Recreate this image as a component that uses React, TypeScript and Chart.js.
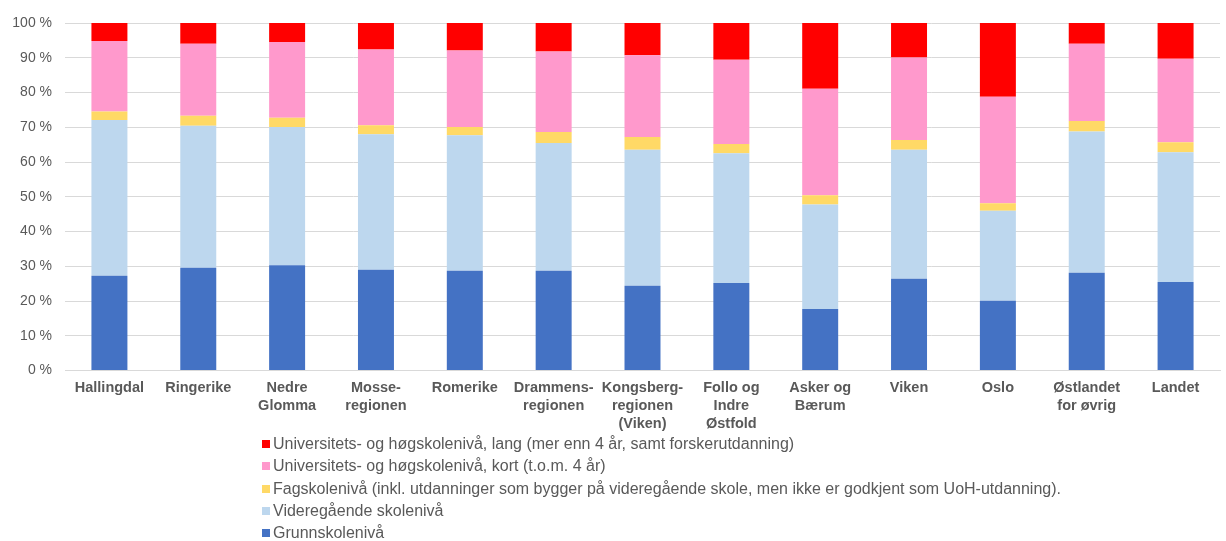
import React, { useEffect, useRef } from "react";
import { Chart, registerables } from "chart.js";

Chart.register(...registerables);

const categories: (string | string[])[] = [
  "Hallingdal",
  "Ringerike",
  ["Nedre", "Glomma"],
  ["Mosse-", "regionen"],
  "Romerike",
  ["Drammens-", "regionen"],
  ["Kongsberg-", "regionen", "(Viken)"],
  ["Follo og", "Indre", "Østfold"],
  ["Asker og", "Bærum"],
  "Viken",
  "Oslo",
  ["Østlandet", "for øvrig"],
  "Landet",
];

const grunnskole = [27.3, 29.6, 30.3, 29.0, 28.7, 28.7, 24.4, 25.2, 17.7, 26.4, 20.1, 28.1, 25.5];
const videregaende = [44.8, 40.8, 39.8, 39.0, 39.0, 36.8, 39.1, 37.3, 30.1, 37.1, 25.9, 40.7, 37.3];
const fagskole = [2.4, 2.9, 2.6, 2.6, 2.4, 3.1, 3.7, 2.7, 2.6, 2.8, 2.1, 3.0, 2.9];
const uhKort = [20.3, 20.7, 21.8, 21.8, 22.0, 23.2, 23.5, 24.2, 30.7, 23.8, 30.7, 22.2, 24.0];
const uhLang = [5.2, 6.0, 5.5, 7.6, 7.9, 8.2, 9.3, 10.6, 18.9, 9.9, 21.2, 6.0, 10.3];

const yTicks = [0, 10, 20, 30, 40, 50, 60, 70, 80, 90, 100];

const seriesNames = [
  "Grunnskolenivå",
  "Videregående skolenivå",
  "Fagskolenivå (inkl. utdanninger som bygger på videregående skole, men ikke er godkjent som UoH-utdanning).",
  "Universitets- og høgskolenivå, kort (t.o.m. 4 år)",
  "Universitets- og høgskolenivå, lang (mer enn 4 år, samt forskerutdanning)",
];
const seriesColors = ["#4472C4", "#BDD7EE", "#FFD966", "#FF99CC", "#FF0000"];
const seriesData = [grunnskole, videregaende, fagskole, uhKort, uhLang];

const TEXT = "#595959";
const FONT = "'Liberation Sans', Arial, sans-serif";

export default function App() {
  const ref = useRef<HTMLCanvasElement | null>(null);

  useEffect(() => {
    if (!ref.current) return;
    const chart = new Chart(ref.current, {
      type: "bar",
      data: {
        labels: categories,
        datasets: seriesData.map((d, i) => ({
          label: seriesNames[i],
          data: d,
          backgroundColor: seriesColors[i],
          borderWidth: 0,
          barPercentage: 0.405,
          categoryPercentage: 1,
        })),
      },
      options: {
        animation: false,
        responsive: false,
        maintainAspectRatio: false,
        layout: { padding: { left: 0, right: 6, top: 23, bottom: 0 } },
        plugins: { legend: { display: false }, tooltip: { enabled: false } },
        scales: {
          x: {
            stacked: true,
            grid: { display: false, drawTicks: false },
            border: { display: true, color: "#d9d9d9", width: 1 },
            ticks: {
              color: TEXT,
              font: { family: FONT, size: 14.5, weight: "bold", lineHeight: 1.26 },
              padding: 8,
              maxRotation: 0,
              autoSkip: false,
            },
            afterFit: (s: any) => {
              s.height = 440 - 370.5;
            },
          },
          y: {
            stacked: true,
            min: 0,
            max: 100,
            afterBuildTicks: (s: any) => {
              s.ticks = yTicks.map((v) => ({ value: v }));
            },
            grid: { color: "#d9d9d9", drawTicks: false, lineWidth: 1 },
            border: { display: false },
            ticks: {
              color: TEXT,
              font: { family: FONT, size: 14 },
              padding: 13,
              callback: (v: any) => v + " %",
            },
            afterFit: (s: any) => {
              s.width = 65;
            },
          },
        },
      },
    });
    return () => chart.destroy();
  }, []);

  const legendOrder = [4, 3, 2, 1, 0];

  return (
    <div
      style={{
        position: "fixed",
        left: 0,
        top: 0,
        width: 1226,
        height: 541,
        background: "#fff",
        overflow: "hidden",
      }}
    >
      <canvas
        ref={ref}
        width={1226}
        height={440}
        style={{ position: "absolute", left: 0, top: 0, width: 1226, height: 440 }}
      />
      <div style={{ position: "absolute", left: 262, top: 433 }}>
        {legendOrder.map((i) => (
          <div
            key={i}
            style={{
              display: "flex",
              alignItems: "center",
              height: 22.3,
              fontFamily: FONT,
              fontSize: 16,
              color: TEXT,
              whiteSpace: "nowrap",
            }}
          >
            <span
              style={{
                display: "inline-block",
                width: 8,
                height: 8,
                background: seriesColors[i],
                marginRight: 3,
              }}
            />
            <span>{seriesNames[i]}</span>
          </div>
        ))}
      </div>
    </div>
  );
}
